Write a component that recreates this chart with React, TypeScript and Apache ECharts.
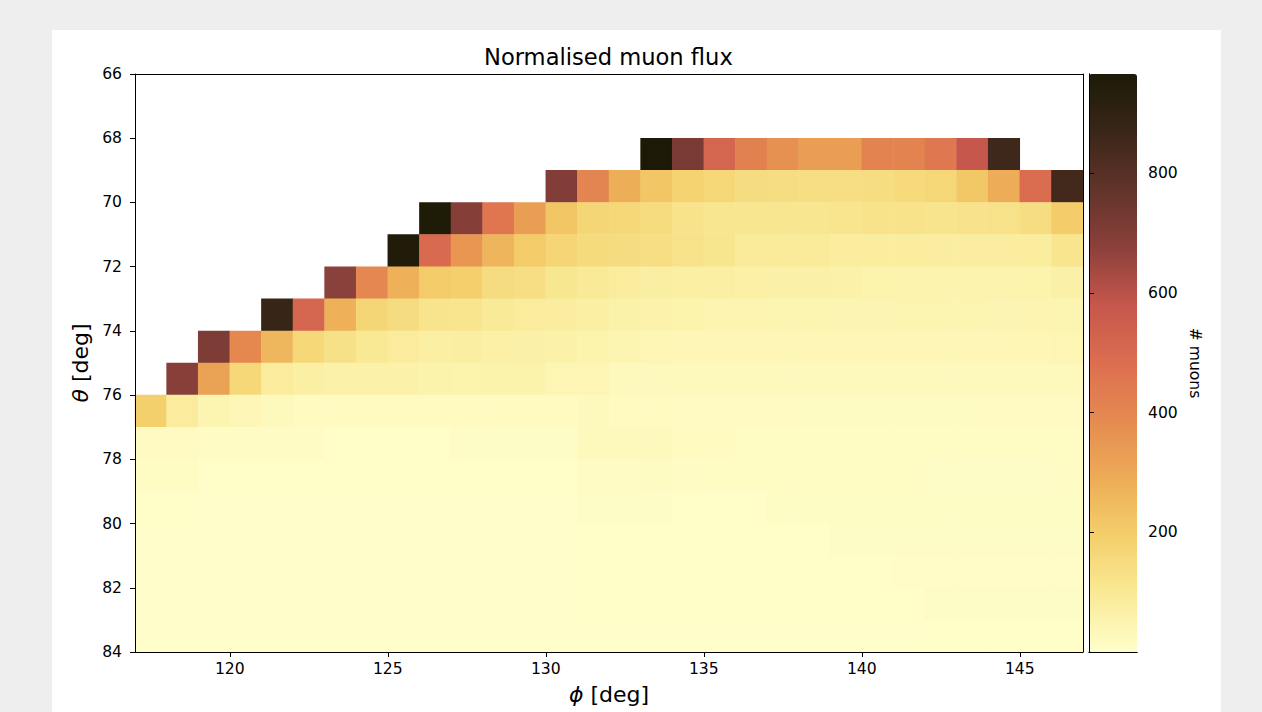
import { useEffect, useRef } from "react";
import * as echarts from "echarts";

// azimuth bins (deg), left edges
const phiBins = [117, 118, 119, 120, 121, 122, 123, 124, 125, 126, 127, 128, 129, 130, 131, 132, 133, 134, 135, 136, 137, 138, 139, 140, 141, 142, 143, 144, 145, 146];
// zenith bins (deg), top edges
const thetaBins = [66, 67, 68, 69, 70, 71, 72, 73, 74, 75, 76, 77, 78, 79, 80, 81, 82, 83];
const phiTicks = [120, 125, 130, 135, 140, 145];
const colorbarTicks = [200, 400, 600, 800];
const countMin = 0;
const countMax = 966;

const n = null;
// counts per theta row, phi 117 ... 146
const theta66 = [n, n, n, n, n, n, n, n, n, n, n, n, n, n, n, n, n, n, n, n, n, n, n, n, n, n, n, n, n, n];
const theta67 = [n, n, n, n, n, n, n, n, n, n, n, n, n, n, n, n, n, n, n, n, n, n, n, n, n, n, n, n, n, n];
const theta68 = [n, n, n, n, n, n, n, n, n, n, n, n, n, n, n, n, 966, 720, 520, 420, 370, 330, 330, 410, 410, 450, 580, 860, n, n];
const theta69 = [n, n, n, n, n, n, n, n, n, n, n, n, n, 700, 405, 285, 220, 180, 166, 146, 142, 140, 140, 142, 155, 165, 215, 290, 490, 850];
const theta70 = [n, n, n, n, n, n, n, n, n, 960, 690, 455, 330, 220, 168, 162, 148, 122, 110, 110, 110, 110, 115, 122, 122, 118, 120, 125, 142, 198];
const theta71 = [n, n, n, n, n, n, n, n, 950, 500, 355, 265, 205, 170, 152, 146, 140, 125, 112, 92, 90, 90, 84, 82, 82, 80, 80, 80, 84, 115];
const theta72 = [n, n, n, n, n, n, 680, 400, 280, 205, 192, 146, 138, 107, 95, 85, 75, 72, 72, 70, 66, 66, 64, 55, 52, 52, 52, 52, 54, 66];
const theta73 = [n, n, n, n, 880, 515, 275, 168, 146, 118, 114, 95, 86, 80, 74, 60, 56, 54, 50, 50, 48, 48, 46, 46, 45, 45, 45, 46, 50, 48];
const theta74 = [n, n, 710, 395, 260, 162, 128, 100, 86, 72, 78, 70, 66, 62, 55, 45, 42, 38, 38, 38, 38, 38, 38, 38, 38, 38, 38, 38, 40, 42];
const theta75 = [n, 685, 320, 162, 85, 72, 62, 62, 62, 58, 55, 57, 57, 42, 42, 30, 30, 28, 28, 28, 27, 27, 27, 27, 27, 27, 27, 28, 28, 30];
const theta76 = [190, 85, 47, 38, 30, 20, 20, 20, 20, 20, 20, 20, 20, 20, 26, 20, 20, 18, 18, 17, 17, 16, 16, 16, 16, 16, 16, 17, 18, 18];
const theta77 = [17, 17, 12, 12, 12, 12, 6, 6, 6, 6, 10, 10, 10, 10, 25, 25, 25, 20, 20, 14, 14, 14, 14, 14, 14, 14, 14, 14, 14, 14];
const theta78 = [14, 14, 6, 6, 6, 6, 6, 6, 6, 6, 6, 6, 6, 6, 12, 12, 16, 12, 15, 15, 15, 15, 15, 15, 15, 10, 10, 10, 10, 12];
const theta79 = [6, 6, 4, 4, 4, 4, 4, 4, 4, 4, 4, 4, 4, 4, 9, 9, 9, 6, 6, 6, 11, 11, 11, 11, 11, 11, 11, 11, 11, 11];
const theta80 = [4, 4, 4, 4, 4, 4, 4, 4, 4, 4, 4, 4, 4, 4, 6, 6, 6, 6, 6, 6, 6, 5, 9, 9, 10, 10, 10, 10, 10, 10];
const theta81 = [4, 4, 4, 4, 4, 4, 4, 4, 4, 4, 4, 4, 4, 4, 6, 6, 6, 6, 6, 6, 6, 6, 6, 6, 8, 8, 8, 8, 8, 8];
const theta82 = [4, 4, 4, 4, 4, 4, 4, 4, 4, 4, 4, 4, 4, 4, 5, 5, 5, 5, 5, 5, 5, 5, 5, 5, 5, 10, 10, 10, 10, 10];
const theta83 = [3, 3, 3, 3, 3, 3, 3, 3, 3, 3, 3, 3, 3, 3, 4, 4, 4, 4, 4, 4, 4, 4, 4, 4, 4, 6, 6, 6, 6, 6];

const rows = [theta66, theta67, theta68, theta69, theta70, theta71, theta72, theta73, theta74, theta75, theta76, theta77, theta78, theta79, theta80, theta81, theta82, theta83];

const palette = ["#fffecb", "#f9ea96", "#f4cf6b", "#edac57", "#e58b50", "#dc6e50", "#c6574c", "#8c403c", "#62342a", "#3a2619", "#1c1a06"];

const FONT = "DejaVu Sans";
const BLACK = "#000000";

export default function App() {
  const ref = useRef<HTMLDivElement>(null);

  useEffect(() => {
    if (!ref.current) return;
    const chart = echarts.init(ref.current, undefined, { renderer: "svg" });

    const data: [number, number, number][] = [];
    rows.forEach((row, yi) => {
      row.forEach((v, xi) => {
        if (v !== null && v !== undefined) data.push([xi, yi, v as number]);
      });
    });

    const line = { show: true, lineStyle: { color: BLACK, width: 1 } };
    const hiddenBits = { axisTick: { show: false }, axisLabel: { show: false }, splitLine: { show: false } };
    const nameStyle = {
      fontSize: 22,
      color: BLACK,
      fontFamily: FONT,
      rich: { i: { fontStyle: "italic", fontSize: 22, color: BLACK, fontFamily: FONT } },
    };

    const option: any = {
      animation: false,
      backgroundColor: "transparent",
      textStyle: { fontFamily: FONT },
      title: {
        text: "Normalised muon flux",
        left: 484,
        top: 45,
        padding: 0,
        textStyle: { fontSize: 22.6, fontWeight: "normal", color: BLACK, fontFamily: FONT },
      },
      grid: [
        { left: 135, top: 74, width: 948, height: 578, show: false },
        { left: 1089, top: 74, width: 48, height: 578, show: false },
      ],
      xAxis: [
        { type: "category", gridIndex: 0, data: phiBins, position: "top", axisLine: line, ...hiddenBits, z: 10 },
        {
          type: "value",
          gridIndex: 0,
          min: 117,
          max: 147,
          position: "bottom",
          axisLine: line,
          axisTick: { show: true, length: 5, customValues: phiTicks, lineStyle: { color: BLACK, width: 1 } },
          axisLabel: { customValues: phiTicks, fontSize: 15.6, color: BLACK, margin: 9, fontFamily: FONT },
          splitLine: { show: false },
          name: "{i|ϕ} [deg]",
          nameLocation: "middle",
          nameGap: 31,
          nameTextStyle: nameStyle,
          z: 10,
        },
        { type: "value", gridIndex: 1, min: 0, max: 1, position: "bottom", axisLine: line, ...hiddenBits, z: 10 },
        { type: "value", gridIndex: 1, min: 0, max: 1, position: "top", axisLine: line, ...hiddenBits, z: 10 },
      ],
      yAxis: [
        { type: "category", gridIndex: 0, data: thetaBins, inverse: true, position: "right", axisLine: line, ...hiddenBits, z: 10 },
        {
          type: "value",
          gridIndex: 0,
          min: 66,
          max: 84,
          interval: 2,
          inverse: true,
          position: "left",
          axisLine: line,
          axisTick: { show: true, length: 5, lineStyle: { color: BLACK, width: 1 } },
          axisLabel: { fontSize: 15.6, color: BLACK, margin: 13, fontFamily: FONT },
          splitLine: { show: false },
          name: "{i|θ} [deg]",
          nameLocation: "middle",
          nameRotate: 90,
          nameGap: 41,
          nameTextStyle: nameStyle,
          z: 10,
        },
        {
          type: "value",
          gridIndex: 1,
          min: countMin,
          max: countMax,
          position: "right",
          axisLine: line,
          axisTick: { show: true, length: 5, customValues: colorbarTicks, lineStyle: { color: BLACK, width: 1 } },
          axisLabel: { customValues: colorbarTicks, fontSize: 15.6, color: BLACK, margin: 11, fontFamily: FONT },
          splitLine: { show: false },
          name: "# muons",
          nameLocation: "middle",
          nameRotate: -90,
          nameGap: 50,
          nameTextStyle: { fontSize: 15.6, color: BLACK, fontFamily: FONT },
          z: 10,
        },
        { type: "value", gridIndex: 1, min: 0, max: 1, position: "left", axisLine: line, ...hiddenBits, z: 10 },
      ],
      visualMap: {
        type: "continuous",
        min: countMin,
        max: countMax,
        calculable: false,
        orient: "vertical",
        left: 1089,
        top: 74,
        itemWidth: 48,
        itemHeight: 578,
        padding: 0,
        hoverLink: false,
        seriesIndex: 0,
        inRange: { color: palette },
      },
      series: [
        {
          type: "heatmap",
          xAxisIndex: 0,
          yAxisIndex: 0,
          data,
          itemStyle: { borderWidth: 0 },
          emphasis: { disabled: true },
        },
      ],
    };

    chart.setOption(option);
    return () => chart.dispose();
  }, []);

  return (
    <div style={{ position: "absolute", left: 0, top: 0, width: 1262, height: 712, background: "#eeeeee", overflow: "hidden" }}>
      <div style={{ position: "absolute", left: 52, top: 30, width: 1169, height: 682, background: "#ffffff" }} />
      <div ref={ref} style={{ position: "absolute", left: 0, top: 0, width: 1262, height: 712 }} />
    </div>
  );
}
